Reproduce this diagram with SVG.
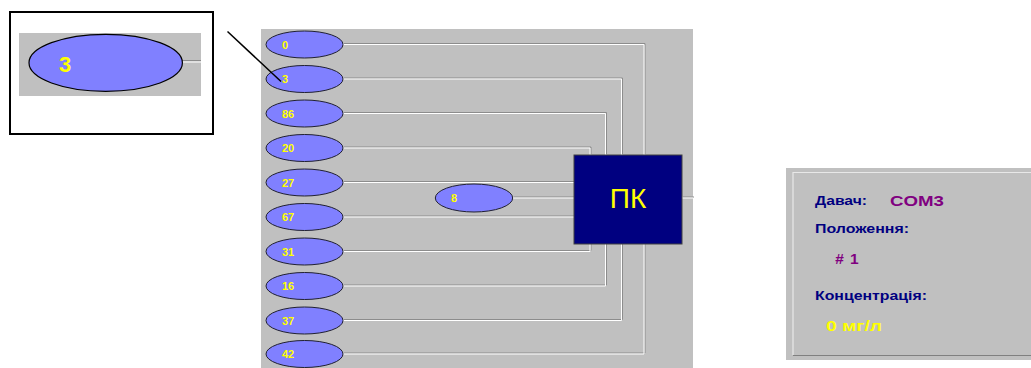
<svg xmlns="http://www.w3.org/2000/svg" width="1031" height="368" viewBox="0 0 1031 368">
<style>
.bg{fill:#c0c0c0}
.node{fill:#8080ff;stroke:#202030;stroke-width:1}
.lbl{font-family:"Liberation Sans",Arial,sans-serif;font-weight:bold;font-size:11px;fill:#ffff00}
.sh{fill:none;stroke:#8c8c8c;stroke-width:1}
.hl{fill:none;stroke:#ffffff;stroke-width:1}
.cap{font-family:"Liberation Sans",Arial,sans-serif;font-weight:bold;font-size:13.5px;fill:#000080}
.val{font-family:"Liberation Sans",Arial,sans-serif;font-weight:bold;font-size:15.5px;fill:#800080}
</style>
<rect width="1031" height="368" fill="#ffffff"/>

<!-- inset -->
<g id="inset">
<rect x="10" y="12" width="203" height="122" fill="#ffffff" stroke="#000000" stroke-width="2"/>
<rect x="19" y="33" width="182" height="63" class="bg"/>
<path d="M182 60.5 H201" class="sh"/>
<path d="M182 62 H201" class="hl"/>
<ellipse cx="105.7" cy="62.8" rx="76.7" ry="28.5" fill="#8080ff" stroke="#000000" stroke-width="1.2"/>
<text x="59" y="71.5" font-family="'Liberation Sans',Arial,sans-serif" font-weight="bold" font-size="22" fill="#ffff00">3</text>
</g>

<!-- main panel -->
<rect x="261" y="29" width="432" height="339" class="bg"/>

<g id="connectors">
<g transform="translate(1,-1)" class="sh">
<path d="M343 44.5 H644 V155"/>
<path d="M343 79 H621.5 V155"/>
<path d="M343 113.5 H605.5 V155"/>
<path d="M343 148 H590 V155"/>
<path d="M343 182.5 H574"/>
<path d="M512.7 198 H574"/>
<path d="M682 198 H693"/>
<path d="M343 217 H574"/>
<path d="M343 251.5 H590 V244"/>
<path d="M343 286 H605.5 V244"/>
<path d="M343 320.5 H621.5 V244"/>
<path d="M343 354 H644 V244"/>
</g>
<g class="hl">
<path d="M343 44.5 H644 V155"/>
<path d="M343 79 H621.5 V155"/>
<path d="M343 113.5 H605.5 V155"/>
<path d="M343 148 H590 V155"/>
<path d="M343 182.5 H574"/>
<path d="M512.7 198 H574"/>
<path d="M682 198 H693"/>
<path d="M343 217 H574"/>
<path d="M343 251.5 H590 V244"/>
<path d="M343 286 H605.5 V244"/>
<path d="M343 320.5 H621.5 V244"/>
<path d="M343 354 H644 V244"/>
</g>
</g>

<g id="n0"><ellipse cx="304.5" cy="44.5" rx="38.5" ry="13.5" class="node"/><text x="282" y="48.5" class="lbl">0</text></g>
<g id="n3"><ellipse cx="304.5" cy="79" rx="38.5" ry="13.5" class="node"/><text x="282" y="83" class="lbl">3</text></g>
<g id="n86"><ellipse cx="304.5" cy="113.5" rx="38.5" ry="13.5" class="node"/><text x="282" y="117.5" class="lbl">86</text></g>
<g id="n20"><ellipse cx="304.5" cy="148" rx="38.5" ry="13.5" class="node"/><text x="282" y="152" class="lbl">20</text></g>
<g id="n27"><ellipse cx="304.5" cy="182.5" rx="38.5" ry="13.5" class="node"/><text x="282" y="186.5" class="lbl">27</text></g>
<g id="n67"><ellipse cx="304.5" cy="217" rx="38.5" ry="13.5" class="node"/><text x="282" y="221" class="lbl">67</text></g>
<g id="n31"><ellipse cx="304.5" cy="251.5" rx="38.5" ry="13.5" class="node"/><text x="282" y="255.5" class="lbl">31</text></g>
<g id="n16"><ellipse cx="304.5" cy="286" rx="38.5" ry="13.5" class="node"/><text x="282" y="290" class="lbl">16</text></g>
<g id="n37"><ellipse cx="304.5" cy="320.5" rx="38.5" ry="13.5" class="node"/><text x="282" y="324.5" class="lbl">37</text></g>
<g id="n42"><ellipse cx="304.5" cy="354" rx="38.5" ry="13.5" class="node"/><text x="282" y="358" class="lbl">42</text></g>
<g id="n8"><ellipse cx="474" cy="198" rx="38.7" ry="14" class="node"/><text x="451" y="202" class="lbl">8</text></g>

<g id="pk">
<rect x="574" y="155" width="108" height="89" fill="#000080" stroke="#404040" stroke-width="1"/>
<text x="628" y="207.5" text-anchor="middle" font-family="'Liberation Sans',Arial,sans-serif" font-size="28" fill="#ffff00">ПК</text>
</g>

<!-- zoom pointer -->
<line x1="227.5" y1="31.5" x2="281" y2="81.5" stroke="#000000" stroke-width="1.5"/>

<!-- right panel -->
<g id="status">
<rect x="786" y="168" width="245" height="192" class="bg"/>
<path d="M793 355 V172.5 H1031" fill="none" stroke="#e8e8e8" stroke-width="1.2"/>
<path d="M793 355.5 H1031" fill="none" stroke="#808080" stroke-width="1.2"/>
<text x="815" y="205" class="cap" textLength="52" lengthAdjust="spacingAndGlyphs">Давач:</text>
<text x="890" y="205.5" class="val" textLength="54" lengthAdjust="spacingAndGlyphs">COM3</text>
<text x="815" y="233" class="cap" textLength="94" lengthAdjust="spacingAndGlyphs">Положення:</text>
<text x="835" y="264" class="val" font-style="italic">#</text>
<text x="850" y="264" class="val">1</text>
<text x="815" y="300" class="cap" textLength="112" lengthAdjust="spacingAndGlyphs">Концентрація:</text>
<text x="826" y="331" font-family="'Liberation Sans',Arial,sans-serif" font-weight="bold" font-size="14.5" fill="#ffff00" textLength="56" lengthAdjust="spacingAndGlyphs">0 мг/л</text>
</g>
</svg>
